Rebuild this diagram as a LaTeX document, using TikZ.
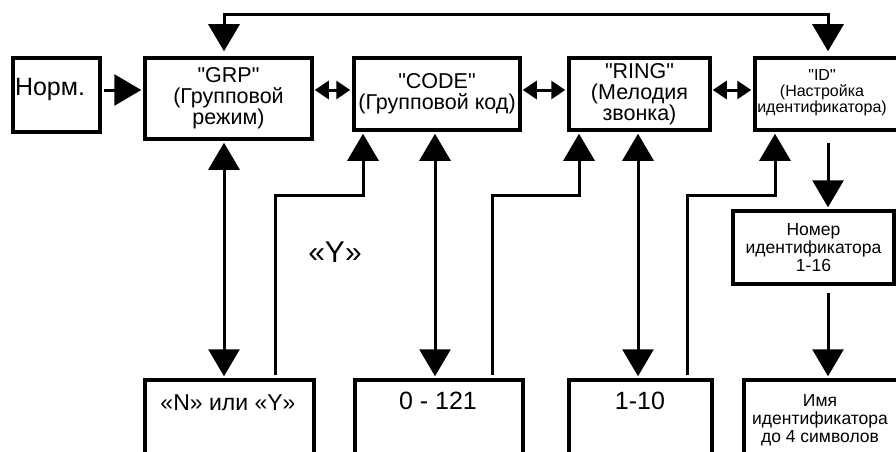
\documentclass[tikz,border=0pt]{standalone}
\usepackage{fontspec}
\setmainfont{Liberation Sans}[Ligatures=TeXOff]
\usetikzlibrary{arrows.meta,calc}
\tikzset{
  box/.style={draw, line width=3.5pt, inner sep=0pt, align=center},
  conn/.style={line width=3pt},
  bigtip/.tip={Triangle[length=27pt,width=31pt]},
  smalltip/.tip={Triangle[length=14pt,width=18pt]},
  fA/.style={font=\fontsize{21.5}{21}\selectfont},
  fID/.style={font=\fontsize{16}{16}\selectfont, align=center},
  fN/.style={font=\fontsize{17.5}{18}\selectfont, align=center},
  fBig/.style={font=\fontsize{25}{25}\selectfont},
}
\begin{document}
\begin{tikzpicture}[x=1pt,y=-1pt]
\clip (0,0) rectangle (896,452);
\fill[white] (0,0) rectangle (896,452);
% top row
\node[box, minimum width=87pt, minimum height=74pt] (norm) at (56.5,95) {};
\node[fBig] (normt) at (50,89) {Норм.};
\node[box, fA, minimum width=167pt, minimum height=81pt] (grp) at (228.5,98.5) {"GRP"\\(Групповой\\режим)};
\node[box, fA, minimum width=166pt, minimum height=72pt] (code) at (437,94) {"CODE"\\(Групповой код)};
\node[box, fA, minimum width=141pt, minimum height=72pt] (ring) at (639.5,94) {"RING"\\(Мелодия\\звонка)};
\node[box, minimum width=150pt, minimum height=72pt] (id) at (830,94) {};
\node[fID] (idt) at (822,93) {"ID"\\(Настройка\\идентификатора)};
\node[box, fN, minimum width=161pt, minimum height=73pt] (nom) at (813.5,247.5) {Номер\\идентификатора\\1-16};
% bottom row (boxes run past the lower edge)
\node[box, minimum width=169pt, minimum height=90pt] (ny) at (229.5,425) {};
\node[font=\fontsize{23}{23}\selectfont] (nyt) at (228,403) {«N» или «Y»};
\node[box, minimum width=168pt, minimum height=90pt] (c121) at (439,425) {};
\node[fBig] (c121t) at (438,401) {0 - 121};
\node[box, minimum width=143pt, minimum height=90pt] (r10) at (640.5,425) {};
\node[fBig] (r10t) at (640,401) {1-10};
\node[box, minimum width=170pt, minimum height=90pt] (name) at (829,425) {};
\node[fN] (namet) at (820,420) {Имя\\идентификатора\\до 4 символов};
\node[font=\fontsize{30}{30}\selectfont] (ylab) at (335,252) {«Y»};
% routing coordinates
\coordinate (ytop) at (0,15);
\coordinate (ymid) at (0,195);
\coordinate (yrow) at (0,90);
\coordinate (xa) at (224,0);
\coordinate (xi) at (828,0);
\coordinate (xb) at (275,0);
\coordinate (xc) at (363,0);
\coordinate (xd) at (435,0);
\coordinate (xe) at (492,0);
\coordinate (xf) at (579,0);
\coordinate (xg) at (638,0);
\coordinate (xh) at (687,0);
\coordinate (xj) at (775,0);
% connectors
\draw[conn, {bigtip}-{bigtip}, shorten <=5pt, shorten >=5pt] (grp.north -| xa) -- (xa |- ytop) -- (xi |- ytop) -- (id.north -| xi);
\draw[conn, -{bigtip}, shorten <=2pt, shorten >=2pt] (norm.east |- yrow) -- (grp.west |- yrow);
\draw[conn, {smalltip}-{smalltip}, shorten <=1pt, shorten >=2pt] (grp.east |- yrow) -- (code.west |- yrow);
\draw[conn, {smalltip}-{smalltip}, shorten <=1pt, shorten >=2pt] (code.east |- yrow) -- (ring.west |- yrow);
\draw[conn, {smalltip}-{smalltip}, shorten <=1pt, shorten >=2pt] (ring.east |- yrow) -- (id.west |- yrow);
\draw[conn, {bigtip}-{bigtip}, shorten <=2pt, shorten >=2pt] (grp.south -| xa) -- (ny.north -| xa);
\draw[conn, {bigtip}-{bigtip}, shorten <=2pt, shorten >=2pt] (code.south -| xd) -- (c121.north -| xd);
\draw[conn, {bigtip}-{bigtip}, shorten <=2pt, shorten >=2pt] (ring.south -| xg) -- (r10.north -| xg);
\draw[conn, -{bigtip}, shorten <=3pt, shorten >=2pt] (ny.north -| xb) |- (xc |- ymid) -- (code.south -| xc);
\draw[conn, -{bigtip}, shorten <=3pt, shorten >=2pt] (c121.north -| xe) |- (xf |- ymid) -- (ring.south -| xf);
\draw[conn, -{bigtip}, shorten <=3pt, shorten >=2pt] (r10.north -| xh) |- (xj |- ymid) -- (id.south -| xj);
\draw[conn, -{bigtip}, shorten <=11pt, shorten >=2pt] (id.south -| xi) -- (nom.north -| xi);
\draw[conn, -{bigtip}, shorten <=7pt, shorten >=2pt] (nom.south -| xi) -- (name.north -| xi);
\end{tikzpicture}
\end{document}
